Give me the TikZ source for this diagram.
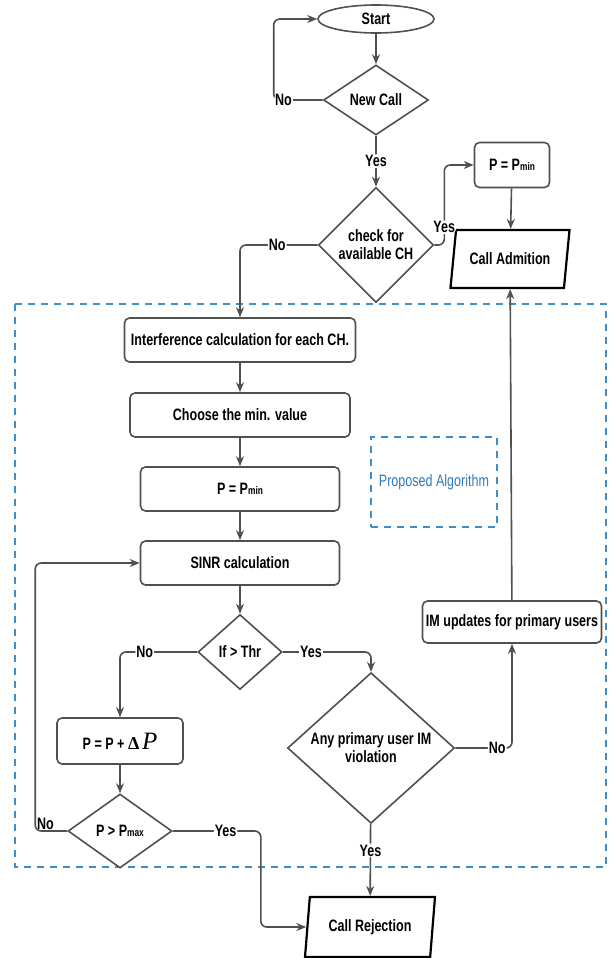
\documentclass[tikz,border=0pt]{standalone}
\usepackage{fontspec}
\setmainfont{Liberation Sans}[FakeStretch=0.76]
\newfontfamily\deltafont{Liberation Serif}
\usetikzlibrary{arrows.meta,shapes.geometric}
\definecolor{linegray}{HTML}{505050}
\definecolor{algoblue}{HTML}{3D8EC9}
\definecolor{textblue}{HTML}{2F7BBB}

\begin{document}
\begin{tikzpicture}[x=1pt, y=-1pt,
	every node/.style={font=\fontsize{16.5}{18}\selectfont\bfseries},
	process/.style={draw=linegray, line width=1.6pt, rounded corners=5pt, fill=white, minimum height=44pt, inner sep=2pt},
	decision/.style={diamond, draw=linegray, line width=1.6pt, fill=white, inner sep=0pt, align=center},
	io/.style={trapezium, trapezium stretches body, draw=black, line width=2.2pt, fill=white, inner sep=2pt},
	conn/.style={draw=linegray, line width=1.6pt, -{Stealth[length=10pt,width=8pt]}, rounded corners=6pt},
	lbl/.style={fill=white, inner sep=1pt}]
\useasboundingbox (0,0) rectangle (609,958);
\draw [algoblue, line width=1.8pt, dash pattern=on 7pt off 6pt] (15,304) rectangle (606,867);

\node [ellipse, draw=linegray, line width=1.6pt, minimum width=116pt, minimum height=28pt, inner sep=0pt] (start) at (376,19) {Start};
\node [decision, minimum width=105pt, minimum height=70pt] (newcall) at (376,100) {New Call};
\node [decision, minimum width=115pt, minimum height=115pt] (check) at (376,245) {check for\\available CH};
\node [process, minimum width=75pt, minimum height=45pt] (pmin1) at (512,165) {P = P{\fontsize{11}{11}\selectfont min}};
\node [io, trapezium left angle=71, trapezium right angle=109, minimum width=119pt, minimum height=58pt] (admit) at (510,259) {Call Admition};

\node [process, minimum width=231pt] (interf) at (240,340) {Interference calculation for each CH.};
\node [process, minimum width=220pt] (choose) at (240,415) {Choose the min. value};
\node [process, minimum width=199pt] (pmin2) at (240,489) {P = P{\fontsize{11}{11}\selectfont min}};
\node [process, minimum width=199pt] (sinr) at (240,563) {SINR calculation};
\node [decision, minimum width=84pt, minimum height=75pt] (thr) at (240,652) {If > Thr};
\node [process, minimum width=126pt, minimum height=46pt] (pinc) at (120,741) {P = P + {\deltafont\fontsize{18}{18}\selectfont\bfseries Δ}\,{\deltafont\fontsize{25}{25}\selectfont\mdseries\itshape P}};
\node [decision, minimum width=104pt, minimum height=74pt] (pmax) at (120,831) {P > P{\fontsize{11}{11}\selectfont max}};
\node [decision, minimum width=167pt, minimum height=118pt] (viol) at (371,748) {Any primary user IM\\violation};
\node [process, minimum width=179pt, minimum height=42pt] (imupd) at (512,622) {IM updates for primary users};
\node [io, trapezium left angle=76, trapezium right angle=104, minimum width=130pt, minimum height=60pt] (reject) at (370,927) {Call Rejection};
\node [draw=algoblue, line width=1.5pt, dash pattern=on 7pt off 6pt, minimum width=126pt, minimum height=90pt, text=textblue, font=\fontsize{16.5}{18}\selectfont] (algo) at (434,482) {Proposed Algorithm};

\draw [conn] (start) -- (newcall);
\draw [conn] (newcall.west) -- node[lbl, pos=0.8] {No} ++(-49,0) |- (start.west);
\draw [conn] (newcall) -- node[lbl] {Yes} (check);
\draw [conn] (check.east) -- ++(10,0) |- node[lbl, pos=0.11] {Yes} (pmin1.west);
\draw [conn] (pmin1) -- (admit);
\draw [conn] (check.west) -| node[lbl, pos=0.26] {No} (interf.north);
\draw [conn] (interf) -- (choose);
\draw [conn] (choose) -- (pmin2);
\draw [conn] (pmin2) -- (sinr);
\draw [conn] (sinr) -- (thr);
\draw [conn] (thr.west) -| node[lbl, pos=0.34] {No} (pinc.north);
\draw [conn] (thr.east) -| node[lbl, pos=0.16] {Yes} (viol.north);
\draw [conn] (pinc) -- (pmax);
\draw [conn] (pmax.west) -- ++(-32,0) node[anchor=south west, inner sep=1pt] {No} |- (sinr.west);
\draw [conn] (pmax.east) -- node[lbl, pos=0.6] {Yes} ++(88,0) |- (reject.west);
\draw [conn] (viol.east) -| node[lbl, pos=0.37] {No} (imupd.south);
\draw [conn] (viol) -- node[lbl, pos=0.37] {Yes} (reject);
\draw [conn] (imupd) -- (admit);
\end{tikzpicture}
\end{document}
